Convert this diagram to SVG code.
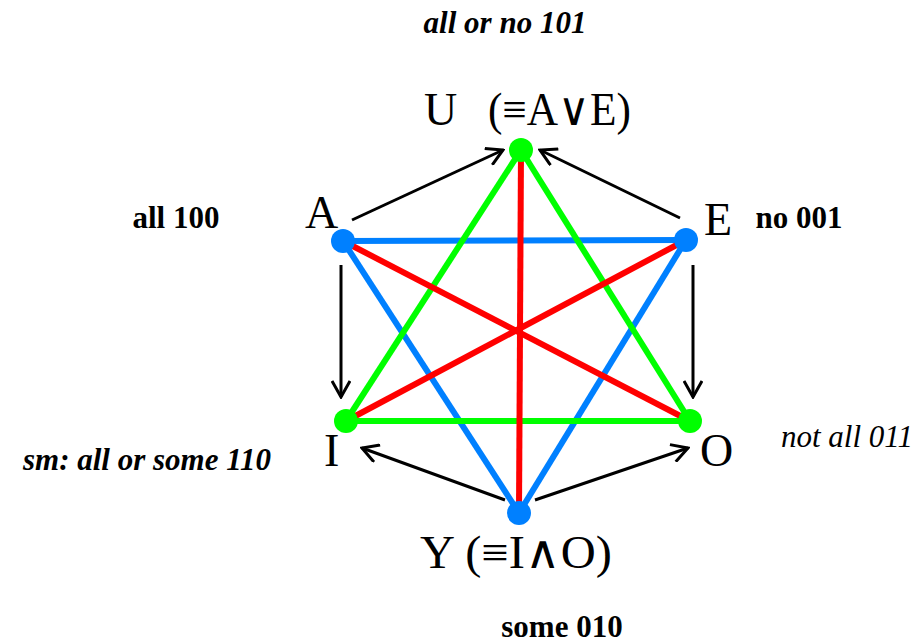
<svg xmlns="http://www.w3.org/2000/svg" width="919" height="643" viewBox="0 0 919 643">
<defs>
<style>
.lbl{font-family:"Liberation Serif",serif;font-size:31px;font-weight:bold;fill:#000}
.it{font-style:italic}
.vx{font-family:"Liberation Serif",serif;font-size:46px;fill:#000}
.blue{stroke:#0080ff;stroke-width:6;fill:none}
.green{stroke:#00ff00;stroke-width:6;fill:none}
.red{stroke:#ff0000;stroke-width:6;fill:none}
.arr{stroke:#000;stroke-width:3;fill:none;marker-end:url(#ah)}
</style>
<marker id="ah" viewBox="0 0 20 20" refX="18" refY="10" markerWidth="20" markerHeight="20" markerUnits="userSpaceOnUse" orient="auto">
<path d="M2,1 L18,10 L2,19" fill="none" stroke="#000" stroke-width="3"/>
</marker>
</defs>
<rect width="919" height="643" fill="#fff"/>
<g id="connectors">
<line class="blue" x1="343" y1="241" x2="686" y2="240"/>
<line class="blue" x1="343" y1="241" x2="519" y2="513"/>
<line class="blue" x1="686" y1="240" x2="519" y2="513"/>
<line class="green" x1="521" y1="150" x2="346" y2="421"/>
<line class="green" x1="521" y1="150" x2="690" y2="421"/>
<line class="green" x1="346" y1="421" x2="690" y2="421"/>
<line class="red" x1="521" y1="150" x2="519" y2="513"/>
<line class="red" x1="343" y1="241" x2="690" y2="421"/>
<line class="red" x1="686" y1="240" x2="346" y2="421"/>
<line class="arr" x1="352" y1="220" x2="503" y2="150"/>
<line class="arr" x1="680" y1="218" x2="540" y2="150"/>
<line class="arr" x1="341" y1="265" x2="341" y2="397"/>
<line class="arr" x1="693" y1="265" x2="693" y2="397"/>
<line class="arr" x1="505" y1="500" x2="362" y2="448"/>
<line class="arr" x1="535" y1="500" x2="688" y2="448"/>
</g>
<g id="U"><circle cx="521" cy="150" r="12" fill="#00ff00"/><text class="vx" x="424" y="125">U</text><text class="vx" x="488" y="125" textLength="143" lengthAdjust="spacingAndGlyphs">(≡A∨E)</text></g>
<g id="A"><circle cx="343" cy="241" r="12" fill="#0080ff"/><text class="vx" x="305" y="228">A</text></g>
<g id="E"><circle cx="686" cy="240" r="12" fill="#0080ff"/><text class="vx" x="704" y="235">E</text></g>
<g id="I"><circle cx="346" cy="421" r="12" fill="#00ff00"/><text class="vx" x="324" y="466">I</text></g>
<g id="O"><circle cx="690" cy="421" r="12" fill="#00ff00"/><text class="vx" x="700" y="466">O</text></g>
<g id="Y"><circle cx="519" cy="513" r="12" fill="#0080ff"/><text class="vx" x="420" y="568" textLength="192" lengthAdjust="spacingAndGlyphs">Y (≡I∧O)</text></g>
<text class="lbl it" x="505" y="33" text-anchor="middle">all or no 101</text>
<text class="lbl" x="176" y="228" text-anchor="middle">all 100</text>
<text class="lbl" x="799" y="228" text-anchor="middle">no 001</text>
<text class="lbl it" x="847" y="447" text-anchor="middle" style="font-weight:normal">not all 011</text>
<text class="lbl it" x="147" y="470" text-anchor="middle">sm: all or some 110</text>
<text class="lbl" x="562" y="637" text-anchor="middle">some 010</text>
</svg>
